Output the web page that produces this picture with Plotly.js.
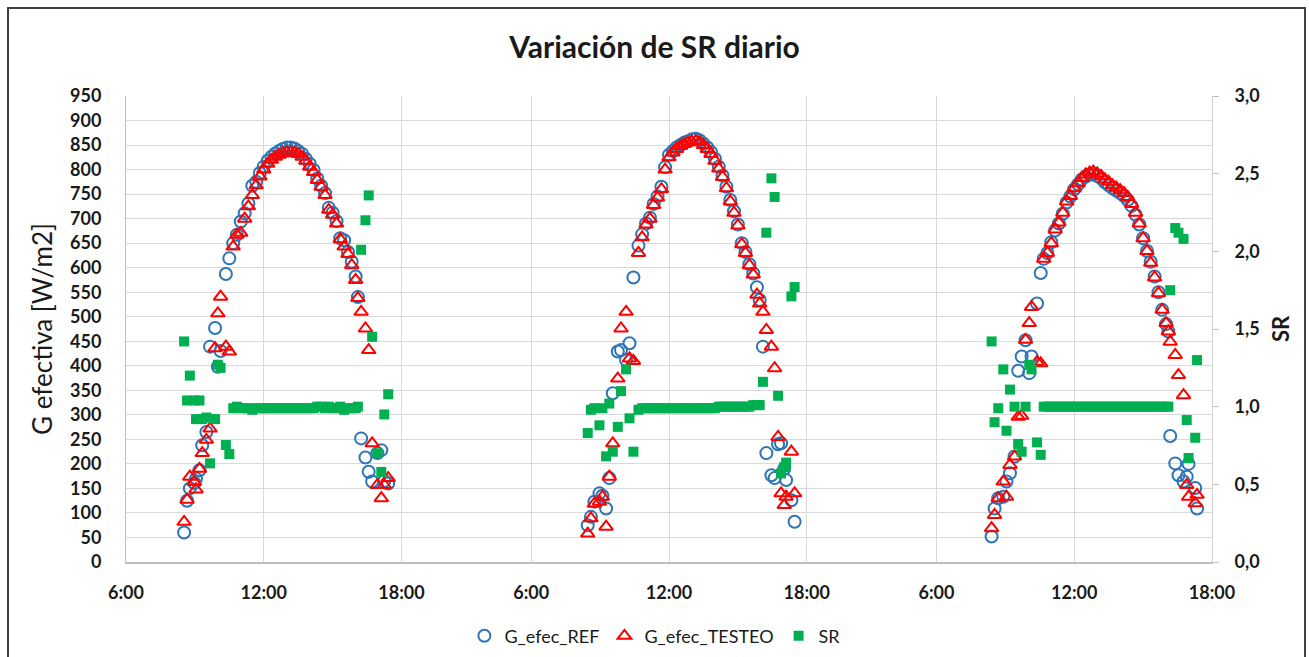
<!DOCTYPE html>
<html>
<head>
<meta charset="utf-8">
<script src="https://cdn.plot.ly/plotly-3.0.1.min.js"></script>
<style>
  html, body { margin: 0; padding: 0; background: #ffffff; }
  #chart { width: 1309px; height: 657px; }
</style>
</head>
<body>
<div id="chart"></div>
<script>
// ---- Data (decimal hour of day) ----
const tickLabels = ["6:00", "12:00", "18:00"];
const tickHours = [6, 12, 18];
const seriesNames = ["G_efec_REF", "G_efec_TESTEO", "SR"];

// Day 1
const d1Hours = [8.53, 8.66, 8.78, 8.98, 9.05, 9.2, 9.32, 9.5, 9.66, 9.88, 10.0, 10.12, 10.35, 10.5,
  10.67, 10.83, 11.0, 11.17, 11.33, 11.5, 11.67, 11.83, 12.0, 12.17, 12.33, 12.5, 12.67, 12.83, 13.0, 13.17,
  13.33, 13.5, 13.67, 13.83, 14.0, 14.17, 14.33, 14.5, 14.67, 14.83, 15.0, 15.17, 15.33, 15.5, 15.67, 15.83, 16.0, 16.1,
  16.24, 16.43, 16.57, 16.72, 16.95, 17.12, 17.25, 17.42];
const d1Ref = [60, 125, 150, 161, 170, 187, 238, 265, 439, 477, 398, 430, 587, 619,
  650, 667, 694, 711, 731, 767, 775, 793, 806, 818, 826, 833, 838, 842, 845, 845,
  843, 838, 832, 822, 812, 799, 782, 767, 752, 722, 712, 695, 660, 656, 632, 612, 582, 540,
  252, 213, 184, 164, 222, 228, 165, 160];
const d1Test = [82, 127, 174, 163, 148, 190, 222, 249, 272, 436, 507, 541, 439, 429,
  643, 667, 671, 700, 725, 748, 768, 786, 800, 812, 820, 826, 830, 833, 835, 835,
  834, 832, 826, 818, 806, 795, 779, 765, 748, 718, 708, 690, 658, 643, 628, 605, 575, 538,
  510, 476, 432, 242, 157, 130, 157, 171];
const d1Sr = [1.42, 1.04, 1.20, 1.04, 0.92, 1.04, 0.92, 0.93, 0.635, 0.92, 1.27, 1.25, 0.753, 0.695,
  0.99, 1.00, 0.99, 0.99, 0.99, 0.98, 0.99, 0.99, 0.99, 0.99, 0.99, 0.99, 0.99, 0.99, 0.99, 0.99,
  0.99, 0.99, 0.99, 0.99, 0.99, 0.99, 1.00, 1.00, 0.99, 1.00, 0.99, 0.99, 1.00, 0.98, 0.99, 0.99, 0.99, 1.00,
  2.01, 2.20, 2.36, 1.45, 0.70, 0.58, 0.95, 1.08];

// Day 2
const d2Hours = [8.46, 8.6, 8.75, 8.97, 9.1, 9.26, 9.4, 9.55, 9.77, 9.91, 10.13, 10.28, 10.45,
  10.67, 10.83, 11.0, 11.17, 11.33, 11.5, 11.67, 11.83, 12.0, 12.17, 12.33, 12.5, 12.67, 12.83, 13.0, 13.17,
  13.33, 13.5, 13.67, 13.83, 14.0, 14.17, 14.33, 14.5, 14.67, 14.83, 15.0, 15.17, 15.33, 15.5, 15.67, 15.83, 15.95,
  16.09, 16.24, 16.46, 16.6, 16.75, 16.88, 17.02, 17.1, 17.33, 17.47];
const d2Ref = [75, 92, 123, 140, 135, 109, 171, 344, 429, 432, 412, 446, 580,
  645, 668, 690, 702, 730, 745, 765, 805, 830, 838, 845, 850, 855, 858, 862, 863,
  860, 853, 845, 836, 822, 806, 788, 765, 738, 715, 688, 650, 632, 607, 588, 560, 534,
  439, 222, 177, 171, 240, 242, 190, 167, 126, 82];
const d2Test = [58, 89, 119, 123, 133, 72, 174, 242, 374, 476, 510, 415, 410,
  630, 662, 688, 700, 728, 743, 760, 800, 825, 835, 842, 848, 852, 855, 857, 858,
  856, 850, 842, 832, 818, 802, 785, 762, 735, 712, 686, 648, 630, 605, 586, 545, 527,
  510, 473, 439, 395, 255, 140, 116, 133, 225, 140];
const d2Sr = [0.83, 0.98, 0.99, 0.88, 0.99, 0.68, 1.02, 0.71, 0.87, 1.10, 1.24, 0.925, 0.71,
  0.98, 0.99, 0.99, 0.99, 0.99, 0.99, 0.99, 0.99, 0.99, 0.99, 0.99, 0.99, 0.99, 0.99, 0.99, 0.99,
  0.99, 0.99, 0.99, 0.99, 0.99, 1.00, 1.00, 1.00, 1.00, 1.00, 1.00, 1.00, 1.00, 1.00, 1.01, 1.01, 1.01,
  1.16, 2.12, 2.47, 2.35, 1.07, 0.57, 0.61, 0.64, 1.71, 1.77];

// Day 3
const d3Hours = [8.4, 8.53, 8.69, 8.91, 9.05, 9.2, 9.4, 9.56, 9.71, 9.88, 10.04, 10.14, 10.38, 10.54,
  10.67, 10.83, 11.0, 11.17, 11.33, 11.5, 11.67, 11.83, 12.0, 12.17, 12.33, 12.5, 12.67, 12.83, 13.0, 13.17,
  13.33, 13.5, 13.67, 13.83, 14.0, 14.17, 14.33, 14.5, 14.67, 14.83, 15.0, 15.17, 15.33, 15.5, 15.67, 15.83, 16.0, 16.1,
  16.18, 16.4, 16.54, 16.76, 16.9, 16.98, 17.27, 17.35];
const d3Ref = [52, 109, 130, 133, 164, 181, 215, 390, 419, 452, 385, 419, 527, 589,
  618, 630, 652, 676, 690, 710, 733, 745, 760, 770, 780, 786, 790, 790, 787, 782,
  774, 768, 762, 757, 752, 746, 738, 726, 708, 688, 660, 634, 612, 582, 550, 514, 485, 470,
  257, 201, 177, 164, 174, 200, 151, 109];
const d3Test = [69, 96, 130, 164, 133, 198, 215, 296, 298, 453, 487, 520, 408, 405,
  618, 630, 650, 678, 692, 712, 735, 746, 762, 772, 783, 790, 794, 796, 792, 787,
  780, 775, 768, 763, 758, 752, 744, 730, 712, 690, 660, 634, 610, 580, 548, 514, 487, 470,
  449, 422, 381, 340, 157, 133, 120, 137];
const d3Sr = [1.42, 0.90, 0.99, 1.24, 0.845, 1.11, 1.00, 0.76, 0.71, 1.00, 1.27, 1.24, 0.77, 0.69,
  1.00, 1.00, 1.00, 1.00, 1.00, 1.00, 1.00, 1.00, 1.00, 1.00, 1.00, 1.00, 1.00, 1.00, 1.00, 1.00,
  1.00, 1.00, 1.00, 1.00, 1.00, 1.00, 1.00, 1.00, 1.00, 1.00, 1.00, 1.00, 1.00, 1.00, 1.00, 1.00, 1.00, 1.00,
  1.75, 2.15, 2.12, 2.08, 0.914, 0.67, 0.80, 1.30];

// ---- Build the x axis: three 6:00-18:00 days with compressed night gaps ----
const dayStart = 6;          // first hour shown each day
const daySpan = 17.65;       // axis units between consecutive 6:00 marks
const days = [
  {h: d1Hours, ref: d1Ref, test: d1Test, sr: d1Sr},
  {h: d2Hours, ref: d2Ref, test: d2Test, sr: d2Sr},
  {h: d3Hours, ref: d3Ref, test: d3Test, sr: d3Sr}
];
const pos = (di, h) => di * daySpan + (h - dayStart);

let xs = [], refY = [], testY = [], srY = [];
days.forEach((d, di) => {
  d.h.forEach((h, i) => {
    xs.push(pos(di, h));
    refY.push(d.ref[i]);
    testY.push(d.test[i]);
    srY.push(d.sr[i]);
  });
});

const tickvals = [], ticktext = [];
days.forEach((d, di) => {
  tickHours.forEach((h, k) => { tickvals.push(pos(di, h)); ticktext.push(tickLabels[k]); });
});

const FONT = "Lato, 'Open Sans', 'DejaVu Sans', sans-serif";

const traces = [
  {
    x: xs, y: refY, name: seriesNames[0], type: 'scatter', mode: 'markers',
    marker: {symbol: 'circle-open', size: 12, color: '#2E75B6', line: {width: 2, color: '#2E75B6'}}
  },
  {
    x: xs, y: testY, name: seriesNames[1], type: 'scatter', mode: 'markers',
    marker: {symbol: 'triangle-up-open', size: 12, color: '#FF0000', line: {width: 2, color: '#FF0000'}}
  },
  {
    x: xs, y: srY, name: seriesNames[2], type: 'scatter', mode: 'markers', yaxis: 'y2',
    marker: {symbol: 'square', size: 10, color: '#00B050'}
  }
];

const gridC = '#d9d9d9';
const layout = {
  width: 1309, height: 657,
  paper_bgcolor: '#ffffff', plot_bgcolor: '#ffffff',
  separators: ',.',
  margin: {l: 126, r: 97, t: 96, b: 95, autoexpand: false},
  font: {family: FONT, color: '#1a1a1a'},
  showlegend: true,
  title: {
    text: 'Variación de SR diario',
    font: {family: FONT, size: 30, color: '#1a1a1a', weight: 'bold'},
    x: 0.5, xanchor: 'center', y: 0.928, yanchor: 'middle'
  },
  xaxis: {
    range: [0, 2 * daySpan + 12],
    tickmode: 'array', tickvals: tickvals, ticktext: ticktext,
    showgrid: true, gridcolor: gridC, gridwidth: 1,
    showline: true, linecolor: '#bfbfbf', linewidth: 1.5,
    ticks: '', zeroline: false,
    tickfont: {family: FONT, size: 18, color: '#1a1a1a', weight: 'bold'},
    ticklabelstandoff: 14
  },
  yaxis: {
    range: [0, 950], tickmode: 'linear', tick0: 0, dtick: 50,
    showgrid: true, gridcolor: gridC, gridwidth: 1,
    showline: true, linecolor: '#bfbfbf', linewidth: 1,
    zeroline: false, ticks: '',
    tickfont: {family: FONT, size: 18, color: '#1a1a1a', weight: 'bold'},
    ticklabelstandoff: 20,
    title: {text: 'G efectiva [W/m2]', font: {family: FONT, size: 26, color: '#1a1a1a'}, standoff: 9}
  },
  yaxis2: {
    range: [0, 3], tickmode: 'linear', tick0: 0, dtick: 0.5, tickformat: '.1f',
    overlaying: 'y', side: 'right',
    showgrid: false, zeroline: false,
    showline: true, linecolor: '#d0d0d0', linewidth: 1,
    ticks: 'outside', ticklen: 6, tickcolor: '#bfbfbf',
    tickfont: {family: FONT, size: 18, color: '#1a1a1a', weight: 'bold'},
    ticklabelstandoff: 12,
    title: {text: 'SR', font: {family: FONT, size: 22, color: '#1a1a1a', weight: 'bold'}, standoff: 14}
  },
  legend: {
    orientation: 'h', x: 0.487, xanchor: 'center', y: -0.159, yanchor: 'middle',
    font: {family: FONT, size: 18, color: '#1a1a1a'},
    itemwidth: 30, traceorder: 'normal'
  },
  shapes: [
    {type: 'rect', xref: 'paper', yref: 'paper',
     x0: (8 - 126) / 1086, x1: (1305 - 126) / 1086,
     y0: (562 - 680) / 466, y1: (562 - 8) / 466,
     line: {color: '#404040', width: 2}, fillcolor: 'rgba(0,0,0,0)', layer: 'below'}
  ]
};

Plotly.newPlot('chart', traces, layout, {displayModeBar: false, staticPlot: true});
</script>
</body>
</html>
